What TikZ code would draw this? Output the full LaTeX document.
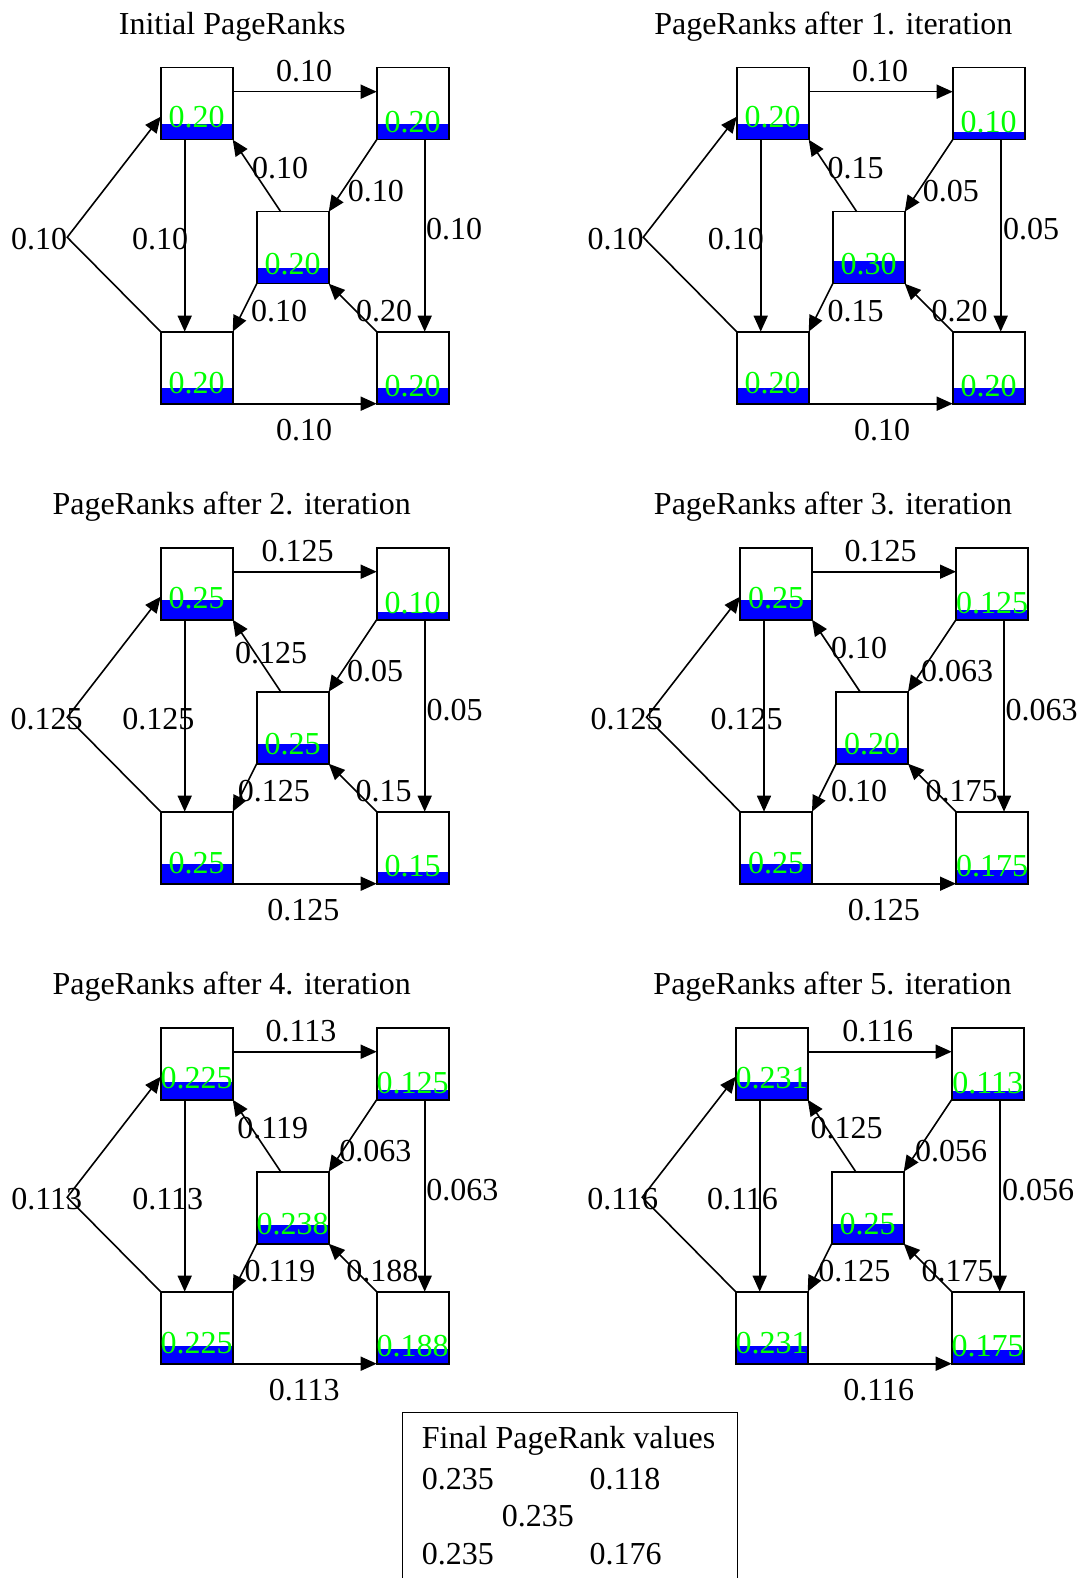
\documentclass[tikz,border=0pt]{standalone}
\usepackage{fontspec}
\setmainfont{Liberation Serif}
\usepackage{tikz}
\usetikzlibrary{positioning}
\usetikzlibrary{arrows.meta}
\tikzstyle{heading} = [anchor=base, inner sep=0pt]
\tikzstyle{elabel}  = [anchor=base, inner sep=0pt]
\tikzstyle{link}    = [draw, line width=1.6pt, -{Triangle[length=16pt,width=14pt]}]
\tikzstyle{summary} = [rectangle, draw, line width=1.7pt, anchor=north west, minimum width=335pt, minimum height=200pt]
\tikzstyle{fline}   = [anchor=base west, inner sep=0pt]
% page box: #1 = rank (bar height), #2 = text height (places the baseline)
\tikzset{page/.style 2 args={rectangle, draw, line width=1.6pt, minimum size=72pt,
    inner sep=0pt, outer sep=0pt, text=green, text height=#2, text depth=0pt,
    path picture={\fill [blue] (path picture bounding box.south west)
      rectangle ([yshift=#1*77pt]path picture bounding box.south east);}}}

\begin{document}
\begin{tikzpicture}[x=1pt, y=-1pt, font=\fontsize{32}{38}\selectfont]
	\useasboundingbox (0,0) rectangle (1080,1578);

	% initial ranks
	\begin{scope}[shift={(160.7,67.7)}]
	\node [heading] (t0) at (71.5,-33.4) {Initial PageRanks};
	\node [page={0.20}{48.6pt}, anchor=north west] (a0) at (0,0) {0.20};
	\node [page={0.20}{58.6pt}, right=144pt of a0] (b0) {0.20};
	\node [page={0.20}{54pt}, below right=72pt and 24pt of a0] (c0) {0.20};
	\node [page={0.20}{50.6pt}, below=192pt of a0] (d0) {0.20};
	\node [page={0.20}{57.4pt}, right=144pt of d0] (e0) {0.20};
	\coordinate (k0) at (-93.5,169.6);
	\path [link] ([yshift=-24pt]a0.north east) -- ([yshift=-24pt]b0.north west) node [elabel] (w0ab) at (143.5,14) {0.10};
	\path [link] (d0.south east) -- (e0.south west) node [elabel] (w0de) at (143.5,372.7) {0.10};
	\path [link] ([xshift=24pt]a0.south west) -- ([xshift=24pt]d0.north west) node [elabel] (w0ad) at (-0.7,181.6) {0.10};
	\path [link] ([xshift=-24pt]b0.south east) -- ([xshift=-24pt]e0.north east) node [elabel] (w0be) at (293.5,172.3) {0.10};
	\path [link] (d0.north west) -- (k0) -- ([yshift=-49pt]a0.north west) node [elabel] (w0da) at (-121.5,181.6) {0.10};
	\path [link] ([xshift=24pt]c0.north west) -- (a0.south east) node [elabel] (w0ca) at (119.3,110.6) {0.10};
	\path [link] (b0.south west) -- (c0.north east) node [elabel] (w0bc) at (215.1,134) {0.10};
	\path [link] (c0.south west) -- (d0.north east) node [elabel] (w0cd) at (118.5,254) {0.10};
	\path [link] (e0.north west) -- (c0.south east) node [elabel] (w0ec) at (223.5,254) {0.20};
	\end{scope}

	% after 1. iteration
	\begin{scope}[shift={(736.7,67.7)}]
	\node [heading] (t1) at (96.6,-33.4) {PageRanks after 1. iteration};
	\node [page={0.20}{48.6pt}, anchor=north west] (a1) at (0,0) {0.20};
	\node [page={0.10}{58.6pt}, right=144pt of a1] (b1) {0.10};
	\node [page={0.30}{54pt}, below right=72pt and 24pt of a1] (c1) {0.30};
	\node [page={0.20}{50.6pt}, below=192pt of a1] (d1) {0.20};
	\node [page={0.20}{57.4pt}, right=144pt of d1] (e1) {0.20};
	\coordinate (k1) at (-93.5,169.6);
	\path [link] ([yshift=-24pt]a1.north east) -- ([yshift=-24pt]b1.north west) node [elabel] (w1ab) at (143.5,14) {0.10};
	\path [link] (d1.south east) -- (e1.south west) node [elabel] (w1de) at (145.5,372.7) {0.10};
	\path [link] ([xshift=24pt]a1.south west) -- ([xshift=24pt]d1.north west) node [elabel] (w1ad) at (-0.9,181.6) {0.10};
	\path [link] ([xshift=-24pt]b1.south east) -- ([xshift=-24pt]e1.north east) node [elabel] (w1be) at (294.5,172.3) {0.05};
	\path [link] (d1.north west) -- (k1) -- ([yshift=-49pt]a1.north west) node [elabel] (w1da) at (-121.2,181.6) {0.10};
	\path [link] ([xshift=24pt]c1.north west) -- (a1.south east) node [elabel] (w1ca) at (118.8,110.6) {0.15};
	\path [link] (b1.south west) -- (c1.north east) node [elabel] (w1bc) at (214.1,134) {0.05};
	\path [link] (c1.south west) -- (d1.north east) node [elabel] (w1cd) at (118.8,254) {0.15};
	\path [link] (e1.north west) -- (c1.south east) node [elabel] (w1ec) at (222.8,254) {0.20};
	\end{scope}

	% after 2. iteration
	\begin{scope}[shift={(160.7,547.7)}]
	\node [heading] (t2) at (71,-33.4) {PageRanks after 2. iteration};
	\node [page={0.25}{48.6pt}, anchor=north west] (a2) at (0,0) {0.25};
	\node [page={0.10}{58.6pt}, right=144pt of a2] (b2) {0.10};
	\node [page={0.25}{54pt}, below right=72pt and 24pt of a2] (c2) {0.25};
	\node [page={0.25}{50.6pt}, below=192pt of a2] (d2) {0.25};
	\node [page={0.15}{57.4pt}, right=144pt of d2] (e2) {0.15};
	\coordinate (k2) at (-93.5,169.6);
	\path [link] ([yshift=-24pt]a2.north east) -- ([yshift=-24pt]b2.north west) node [elabel] (w2ab) at (137,14) {0.125};
	\path [link] (d2.south east) -- (e2.south west) node [elabel] (w2de) at (142.6,372.7) {0.125};
	\path [link] ([xshift=24pt]a2.south west) -- ([xshift=24pt]d2.north west) node [elabel] (w2ad) at (-2.4,181.6) {0.125};
	\path [link] ([xshift=-24pt]b2.south east) -- ([xshift=-24pt]e2.north east) node [elabel] (w2be) at (293.8,172.3) {0.05};
	\path [link] (d2.north west) -- (k2) -- ([yshift=-49pt]a2.north west) node [elabel] (w2da) at (-114,181.6) {0.125};
	\path [link] ([xshift=24pt]c2.north west) -- (a2.south east) node [elabel] (w2ca) at (110.3,115.6) {0.125};
	\path [link] (b2.south west) -- (c2.north east) node [elabel] (w2bc) at (214.3,134) {0.05};
	\path [link] (c2.south west) -- (d2.north east) node [elabel] (w2cd) at (113.1,254) {0.125};
	\path [link] (e2.north west) -- (c2.south east) node [elabel] (w2ec) at (223,254) {0.15};
	\end{scope}

	% after 3. iteration
	\begin{scope}[shift={(740,547.7)}]
	\node [heading] (t3) at (93,-33.4) {PageRanks after 3. iteration};
	\node [page={0.25}{48.6pt}, anchor=north west] (a3) at (0,0) {0.25};
	\node [page={0.125}{58.6pt}, right=144pt of a3] (b3) {0.125};
	\node [page={0.20}{54pt}, below right=72pt and 24pt of a3] (c3) {0.20};
	\node [page={0.25}{50.6pt}, below=192pt of a3] (d3) {0.25};
	\node [page={0.175}{57.4pt}, right=144pt of d3] (e3) {0.175};
	\coordinate (k3) at (-93.5,169.6);
	\path [link] ([yshift=-24pt]a3.north east) -- ([yshift=-24pt]b3.north west) node [elabel] (w3ab) at (140.5,14) {0.125};
	\path [link] (d3.south east) -- (e3.south west) node [elabel] (w3de) at (143.8,372.7) {0.125};
	\path [link] ([xshift=24pt]a3.south west) -- ([xshift=24pt]d3.north west) node [elabel] (w3ad) at (6.7,181.6) {0.125};
	\path [link] ([xshift=-24pt]b3.south east) -- ([xshift=-24pt]e3.north east) node [elabel] (w3be) at (301.7,172.3) {0.063};
	\path [link] (d3.north west) -- (k3) -- ([yshift=-49pt]a3.north west) node [elabel] (w3da) at (-113.3,181.6) {0.125};
	\path [link] ([xshift=24pt]c3.north west) -- (a3.south east) node [elabel] (w3ca) at (119.2,110.6) {0.10};
	\path [link] (b3.south west) -- (c3.north east) node [elabel] (w3bc) at (217.2,134) {0.063};
	\path [link] (c3.south west) -- (d3.north east) node [elabel] (w3cd) at (119.2,254) {0.10};
	\path [link] (e3.north west) -- (c3.south east) node [elabel] (w3ec) at (221.7,254) {0.175};
	\end{scope}

	% after 4. iteration
	\begin{scope}[shift={(160.7,1027.7)}]
	\node [heading] (t4) at (71,-33.4) {PageRanks after 4. iteration};
	\node [page={0.225}{48.6pt}, anchor=north west] (a4) at (0,0) {0.225};
	\node [page={0.125}{58.6pt}, right=144pt of a4] (b4) {0.125};
	\node [page={0.238}{54pt}, below right=72pt and 24pt of a4] (c4) {0.238};
	\node [page={0.225}{50.6pt}, below=192pt of a4] (d4) {0.225};
	\node [page={0.188}{57.4pt}, right=144pt of d4] (e4) {0.188};
	\coordinate (k4) at (-93.5,169.6);
	\path [link] ([yshift=-24pt]a4.north east) -- ([yshift=-24pt]b4.north west) node [elabel] (w4ab) at (140.3,14) {0.113};
	\path [link] (d4.south east) -- (e4.south west) node [elabel] (w4de) at (143.6,372.7) {0.113};
	\path [link] ([xshift=24pt]a4.south west) -- ([xshift=24pt]d4.north west) node [elabel] (w4ad) at (7,181.6) {0.113};
	\path [link] ([xshift=-24pt]b4.south east) -- ([xshift=-24pt]e4.north east) node [elabel] (w4be) at (301.6,172.3) {0.063};
	\path [link] (d4.north west) -- (k4) -- ([yshift=-49pt]a4.north west) node [elabel] (w4da) at (-114,181.6) {0.113};
	\path [link] ([xshift=24pt]c4.north west) -- (a4.south east) node [elabel] (w4ca) at (112.1,110.6) {0.119};
	\path [link] (b4.south west) -- (c4.north east) node [elabel] (w4bc) at (214.6,134) {0.063};
	\path [link] (c4.south west) -- (d4.north east) node [elabel] (w4cd) at (119.3,254) {0.119};
	\path [link] (e4.north west) -- (c4.south east) node [elabel] (w4ec) at (221.6,254) {0.188};
	\end{scope}

	% after 5. iteration
	\begin{scope}[shift={(735.7,1027.7)}]
	\node [heading] (t5) at (96.8,-33.4) {PageRanks after 5. iteration};
	\node [page={0.231}{48.6pt}, anchor=north west] (a5) at (0,0) {0.231};
	\node [page={0.113}{58.6pt}, right=144pt of a5] (b5) {0.113};
	\node [page={0.25}{54pt}, below right=72pt and 24pt of a5] (c5) {0.25};
	\node [page={0.231}{50.6pt}, below=192pt of a5] (d5) {0.231};
	\node [page={0.175}{57.4pt}, right=144pt of d5] (e5) {0.175};
	\coordinate (k5) at (-93.5,169.6);
	\path [link] ([yshift=-24pt]a5.north east) -- ([yshift=-24pt]b5.north west) node [elabel] (w5ab) at (142,14) {0.116};
	\path [link] (d5.south east) -- (e5.south west) node [elabel] (w5de) at (143,372.7) {0.116};
	\path [link] ([xshift=24pt]a5.south west) -- ([xshift=24pt]d5.north west) node [elabel] (w5ad) at (6.8,182) {0.116};
	\path [link] ([xshift=-24pt]b5.south east) -- ([xshift=-24pt]e5.north east) node [elabel] (w5be) at (302.3,172.3) {0.056};
	\path [link] (d5.north west) -- (k5) -- ([yshift=-49pt]a5.north west) node [elabel] (w5da) at (-112.9,181.6) {0.116};
	\path [link] ([xshift=24pt]c5.north west) -- (a5.south east) node [elabel] (w5ca) at (111,110.6) {0.125};
	\path [link] (b5.south west) -- (c5.north east) node [elabel] (w5bc) at (215.3,134) {0.056};
	\path [link] (c5.south west) -- (d5.north east) node [elabel] (w5cd) at (118.6,254) {0.125};
	\path [link] (e5.north west) -- (c5.south east) node [elabel] (w5ec) at (222,254) {0.175};
	\end{scope}

	% final values
	\node [summary] (fin) at (401.7,1411.7) {};
	\node [fline] (f1) at (421.7,1448.3) {Final PageRank values};
	\node [fline] (f2) at (421.7,1489) {0.235};
	\node [fline] (f3) at (589.3,1489) {0.118};
	\node [fline] (f4) at (501.7,1526) {0.235};
	\node [fline] (f5) at (421.7,1564) {0.235};
	\node [fline] (f6) at (589.3,1564) {0.176};
\end{tikzpicture}
\end{document}
